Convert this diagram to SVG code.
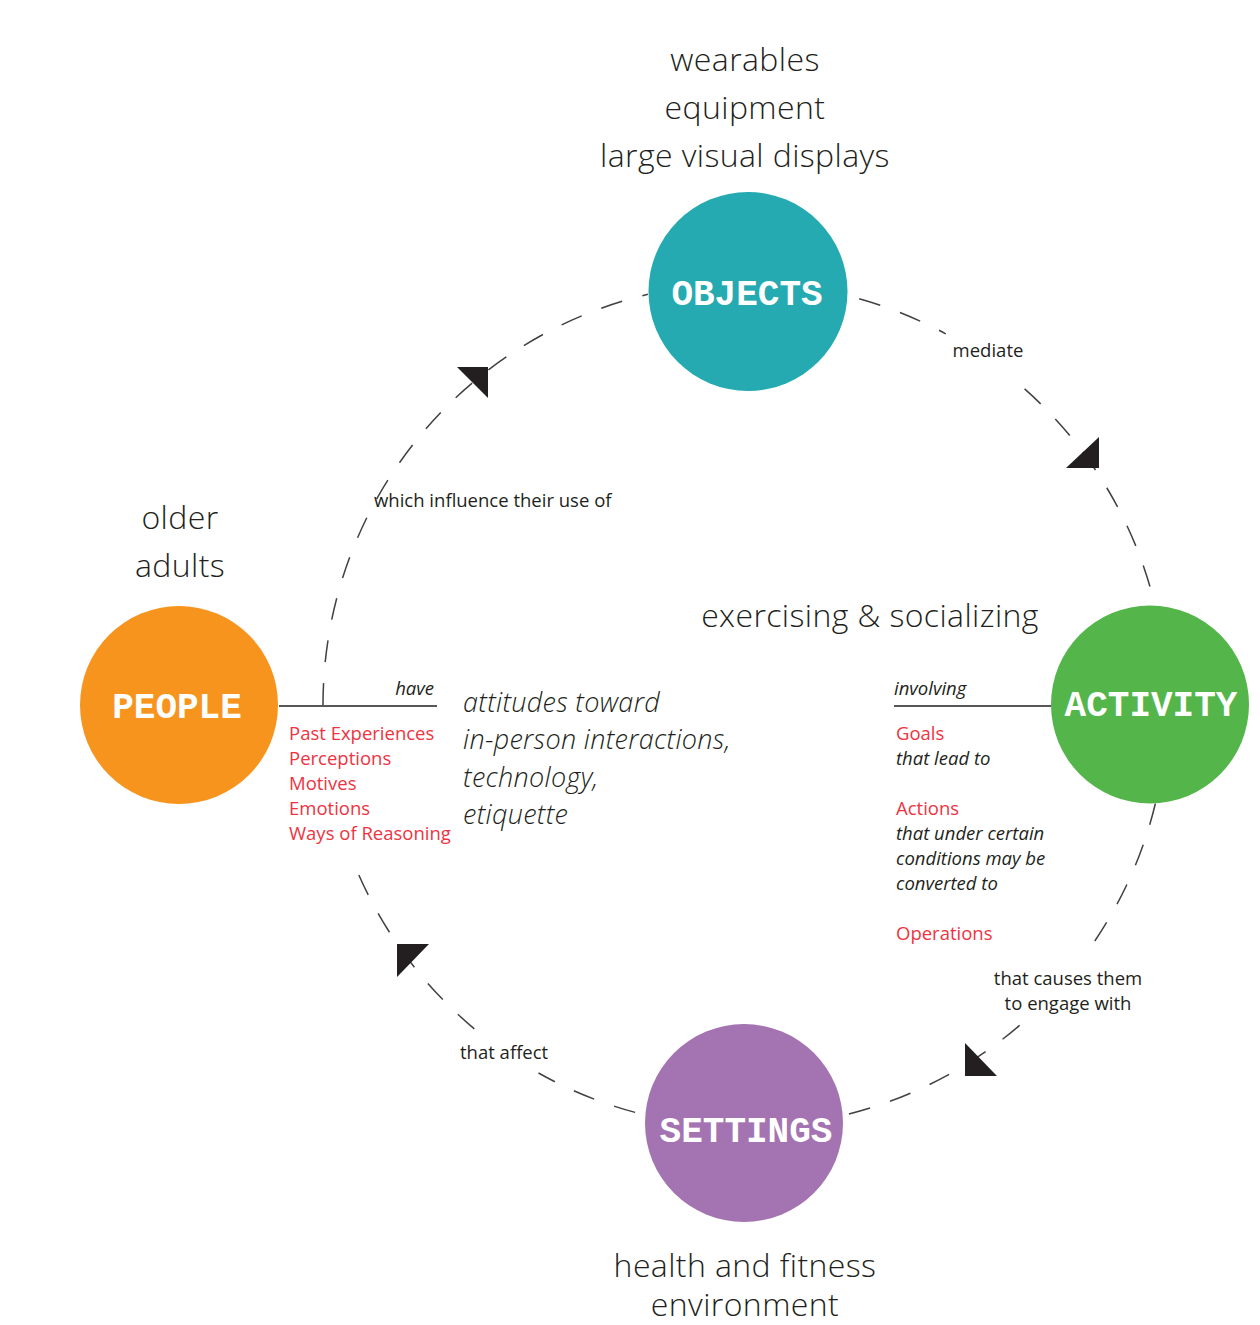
<svg xmlns="http://www.w3.org/2000/svg" width="1260" height="1325" viewBox="0 0 1260 1325">
<style>
.node-label{font-family:"Liberation Mono",monospace;font-weight:bold;font-size:36px;fill:#fff;text-anchor:middle}
.big{font-family:"Open Sans","Lato",sans-serif;font-weight:300;font-size:32px;letter-spacing:0.4px;fill:#231f20;text-anchor:middle}
.mid{font-family:"Open Sans",sans-serif;font-weight:300;font-style:italic;font-size:27px;letter-spacing:0.3px;fill:#231f20}
.small{font-family:"Open Sans",sans-serif;font-size:18.5px;fill:#231f20}
.it{font-style:italic}
.red{fill:#ee3342}
.dash{fill:none;stroke:#414042;stroke-width:1.5;stroke-dasharray:22 21}
.solid{stroke:#231f20;stroke-width:1.5}
.head{fill:#231f20}
</style>
<rect width="1260" height="1325" fill="#fff"/>
<g id="connectors">
<path class="dash" d="M323,705 A422,422 0 0 1 647.9,294.3"/>
<path class="dash" d="M859.2,298.7 A422,422 0 0 1 945.7,333.8"/>
<path class="dash" d="M1024.6,388.9 A422,422 0 0 1 1152.2,594.4"/>
<path class="dash" d="M1155.4,803.5 A422,422 0 0 1 1094.8,941"/>
<path class="dash" d="M1019.6,1025.4 A422,422 0 0 1 844.2,1115.2"/>
<path class="dash" d="M635.1,1112.4 A422,422 0 0 1 538.5,1073"/>
<path class="dash" d="M474.3,1028.8 A422,422 0 0 1 353,861"/>
<polygon class="head" points="457,367 488,367 488,398"/>
<polygon class="head" points="1066,468 1099,468 1099,437"/>
<polygon class="head" points="965,1043 965,1076 997,1076"/>
<polygon class="head" points="397,944 429,944 397,977"/>
<line class="solid" x1="279" y1="706" x2="437" y2="706"/>
<line class="solid" x1="894" y1="706" x2="1052" y2="706"/>
<text class="small" x="988" y="357" text-anchor="middle">mediate</text>
<text class="small" x="374" y="507">which influence their use of</text>
<text class="small" x="460" y="1059">that affect</text>
<text class="small" x="1068" y="985" text-anchor="middle">that causes them</text>
<text class="small" x="1068" y="1010" text-anchor="middle">to engage with</text>
</g>
<g id="objects">
<circle cx="748" cy="291.5" r="99.5" fill="#25aab1"/>
<text class="node-label" x="747" y="305">OBJECTS</text>
<text class="big" x="745" y="71">wearables</text>
<text class="big" x="745" y="119">equipment</text>
<text class="big" x="745" y="167">large visual displays</text>
</g>
<g id="activity">
<circle cx="1150" cy="704.5" r="99" fill="#54b64a"/>
<text class="node-label" x="1151" y="716">ACTIVITY</text>
<text class="big" x="870" y="627">exercising &amp; socializing</text>
<text class="small it" x="894" y="695">involving</text>
<text class="small red" x="896" y="740">Goals</text>
<text class="small it" x="896" y="765">that lead to</text>
<text class="small red" x="896" y="815">Actions</text>
<text class="small it" x="896" y="840">that under certain</text>
<text class="small it" x="896" y="865">conditions may be</text>
<text class="small it" x="896" y="890">converted to</text>
<text class="small red" x="896" y="940">Operations</text>
</g>
<g id="people">
<circle cx="179" cy="705" r="99" fill="#f7941e"/>
<text class="node-label" x="177" y="718">PEOPLE</text>
<text class="big" x="180" y="529">older</text>
<text class="big" x="180" y="577">adults</text>
<text class="small it" x="434" y="695" text-anchor="end">have</text>
<text class="small red" x="289" y="740">Past Experiences</text>
<text class="small red" x="289" y="765">Perceptions</text>
<text class="small red" x="289" y="790">Motives</text>
<text class="small red" x="289" y="815">Emotions</text>
<text class="small red" x="289" y="840">Ways of Reasoning</text>
<text class="mid" x="463" y="712">attitudes toward</text>
<text class="mid" x="463" y="749">in-person interactions,</text>
<text class="mid" x="463" y="787">technology,</text>
<text class="mid" x="463" y="824">etiquette</text>
</g>
<g id="settings">
<circle cx="744" cy="1123" r="99" fill="#a374b1"/>
<text class="node-label" x="746" y="1142">SETTINGS</text>
<text class="big" x="745" y="1277">health and fitness</text>
<text class="big" x="745" y="1316">environment</text>
</g>
</svg>
